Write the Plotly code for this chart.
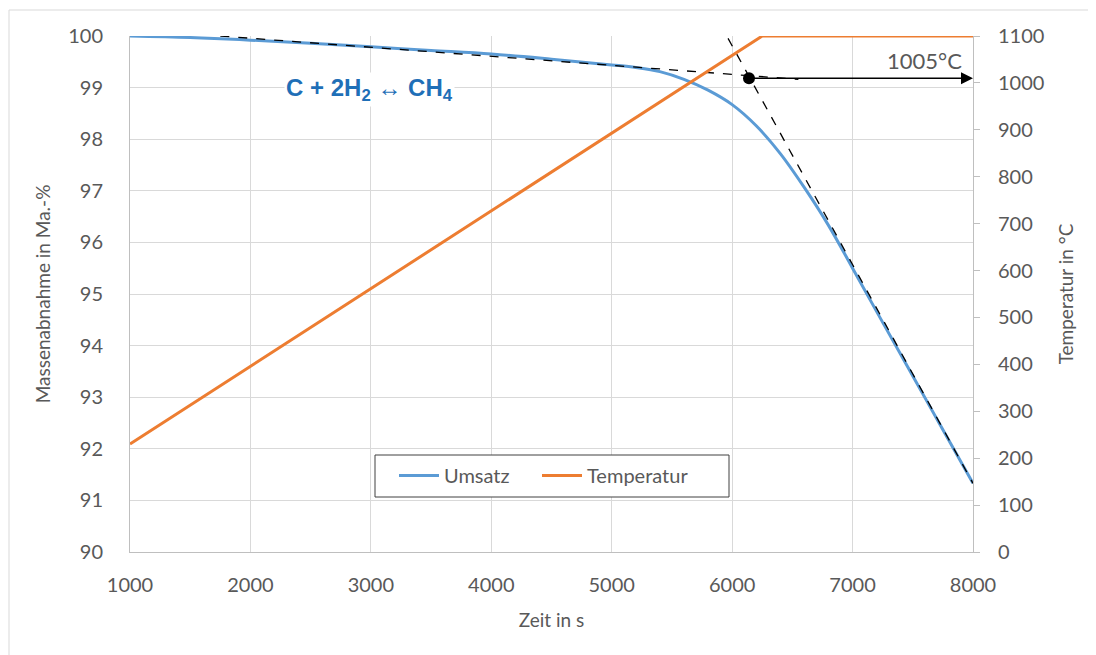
import plotly.graph_objects as go

# ---- data ----
zeit_umsatz = [1000, 1500, 2000, 2500, 3000, 3500, 4000, 4500, 5000, 5200, 5400, 5600,
               5800, 6000, 6200, 6400, 6600, 6800, 7000, 7250, 7500, 7750, 8000]
umsatz = [100.0, 99.97, 99.92, 99.86, 99.79, 99.72, 99.65, 99.55, 99.44, 99.39, 99.31, 99.16,
          98.95, 98.67, 98.26, 97.72, 97.06, 96.33, 95.50, 94.45, 93.41, 92.37, 91.33]

zeit_temp = [1000, 6250, 8000]
temperatur = [230, 1100, 1100]

# tangent construction lines (onset determination)
tangente1_x = [1750, 6550]
tangente1_y = [100.0, 99.16]
tangente2_x = [5966, 8000]
tangente2_y = [99.955, 91.33]
onset_x = 6140
onset_y = 99.18
onset_label = "1005°C"

FONT = "Lato"
GREY = "#595959"
GRID = "#D9D9D9"

fig = go.Figure()
fig.add_trace(go.Scatter(x=zeit_umsatz, y=umsatz, name="Umsatz", mode="lines", legend="legend",
                         line=dict(color="#5B9BD5", width=3, shape="spline", smoothing=1.0)))
fig.add_trace(go.Scatter(x=zeit_temp, y=temperatur, name="Temperatur", mode="lines",
                         legend="legend2",
                         line=dict(color="#ED7D31", width=3), yaxis="y2"))
fig.add_trace(go.Scatter(x=tangente1_x, y=tangente1_y, mode="lines", showlegend=False,
                         line=dict(color="black", width=1.3, dash="dash")))
fig.add_trace(go.Scatter(x=tangente2_x, y=tangente2_y, mode="lines", showlegend=False,
                         line=dict(color="black", width=1.3, dash="dash")))
fig.add_trace(go.Scatter(x=[onset_x], y=[onset_y], mode="markers", showlegend=False,
                         marker=dict(color="black", size=12)))

fig.add_annotation(x=8000, y=onset_y, ax=onset_x, ay=onset_y, xref="x", yref="y",
                   axref="x", ayref="y", text="", showarrow=True, arrowhead=2,
                   arrowsize=1.6, arrowwidth=1.5, arrowcolor="black")
fig.add_annotation(x=7925, y=99.52, xref="x", yref="y", text=onset_label, showarrow=False,
                   xanchor="right", yanchor="middle", font=dict(family=FONT, size=22, color=GREY))
fig.add_annotation(x=2990, y=98.97, xref="x", yref="y",
                   text="<b>C + 2H<sub>2</sub> ↔ CH<sub>4</sub></b>", showarrow=False,
                   bgcolor="white", font=dict(family="Liberation Sans", size=24, color="#1F6FB7"))

# page offset of 8px (body margin)
OFF = 8
W, H = 1096 - OFF, 655 - OFF
L, T = 130 - OFF, 36 - OFF
pw, ph = 843, 516
R, B = W - L - pw, H - T - ph
def px(x):
    return (x - OFF - L) / pw
def py(y):
    return (T + ph - (y - OFF)) / ph

# outer frame (left and top edges)
fig.add_shape(type="rect", xref="paper", yref="paper", x0=px(9), x1=px(1120), y0=py(10), y1=py(680),
              line=dict(color="#D9D9D9", width=1))
# legend box
fig.add_shape(type="rect", xref="paper", yref="paper", x0=px(375), x1=px(729), y0=py(497), y1=py(455),
              line=dict(color="#404040", width=1), fillcolor="white", layer="above")

legend_style = dict(orientation="h", yanchor="top", xanchor="left", borderwidth=0,
                    bgcolor="rgba(0,0,0,0)", font=dict(size=20, color=GREY), itemwidth=40)

fig.update_layout(
    width=W, height=H,
    margin=dict(l=L, r=R, t=T, b=B),
    paper_bgcolor="white", plot_bgcolor="white",
    font=dict(family=FONT, size=20, color=GREY),
    xaxis=dict(range=[1000, 8000], dtick=1000, tick0=1000, showgrid=True, gridcolor=GRID,
               showline=True, linecolor="#BFBFBF", zeroline=False, ticks="",
               ticklabelstandoff=15,
               title=dict(text="Zeit in s", font=dict(size=19, color=GREY), standoff=18),
               tickfont=dict(size=20, color=GREY)),
    yaxis=dict(range=[90, 100], dtick=1, showgrid=True, gridcolor=GRID, showline=True,
               linecolor="#BFBFBF", zeroline=False, ticks="", ticklabelstandoff=22,
               title=dict(text="Massenabnahme in Ma.-%", font=dict(size=19, color=GREY), standoff=12),
               tickfont=dict(size=20, color=GREY)),
    yaxis2=dict(range=[0, 1100], dtick=100, overlaying="y", side="right", showgrid=False,
                showline=True, linecolor="#BFBFBF", zeroline=False, ticks="outside",
                ticklen=6, tickcolor="#BFBFBF", ticklabelstandoff=14,
                title=dict(text="Temperatur in °C", font=dict(size=19, color=GREY), standoff=16),
                tickfont=dict(size=20, color=GREY)),
    legend=dict(x=px(394), y=py(456), **legend_style),
    legend2=dict(x=px(537), y=py(456), **legend_style),
)

fig.write_html("out.html")
